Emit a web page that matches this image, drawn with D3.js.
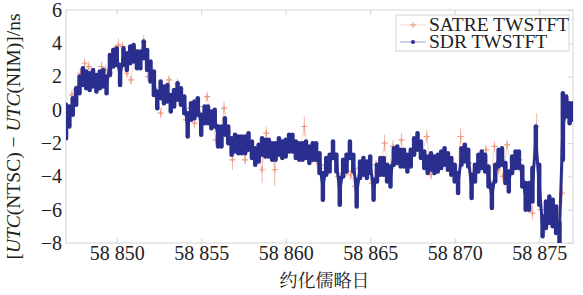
<!DOCTYPE html>
<html>
<head>
<meta charset="utf-8">
<script src="https://cdn.jsdelivr.net/npm/d3@7"></script>
<style>
  body { margin: 0; background: #fff; }
  svg text { font-family: 'Liberation Serif' !important; }
  svg text.cjk { font-family: 'Noto Serif CJK SC' !important; }
</style>
</head>
<body style="margin:0">
<script>
// SDR TWSTFT, one value every 0.2 day from MJD 58847.0
var sdrStart = 58847.0, sdrStep = 0.2;
var sdrValues = [
  -0.7, -0.4, 0.2, 0.8, 1.5, 2.0, 1.8, 1.7, 1.9, 1.6,
  1.8, 1.9, 1.5, 2.7, 3.1, 3.2, 2.1, 3.2, 2.9, 3.3,
  3.4, 3.0, 3.0, 3.6, 3.0, 2.3, 1.6, 0.6, 1.2, 0.9,
  1.0, 0.4, 0.7, 1.1, 0.8, 0.3, -0.9, -0.1, 0.0, 0.2,
  -0.9, -0.3, -0.3, -0.6, -0.5, -1.6, -1.6, -1.0, -1.5, -2.2,
  -2.0, -2.1, -2.1, -2.1, -1.9, -2.4, -2.8, -2.6, -2.2, -2.3,
  -2.3, -2.5, -2.5, -2.2, -2.4, -2.3, -2.0, -2.0, -2.4, -2.5,
  -2.5, -2.4, -2.7, -2.5, -2.5, -3.2, -4.6, -3.4, -3.2, -2.4,
  -3.2, -4.9, -3.5, -3.2, -2.4, -3.2, -5.0, -3.6, -3.4, -3.6,
  -3.3, -4.8, -3.8, -3.4, -3.4, -3.8, -4.0, -2.8, -2.7, -2.9,
  -2.9, -3.2, -2.9, -2.2, -1.9, -2.4, -3.0, -3.3, -3.1, -3.3,
  -3.2, -3.0, -2.8, -3.1, -3.4, -3.8, -4.4, -2.8, -2.6, -2.9,
  -4.6, -3.8, -3.2, -3.0, -3.2, -4.0, -5.2, -3.8, -2.9, -2.8,
  -3.8, -4.3, -3.3, -3.0, -3.0, -4.0, -5.2, -5.2, -4.5, -1.8,
  -4.5, -7.0, -6.3, -6.0, -6.2, -6.6, -7.4, -1.0, 0.2, -0.2,
  -0.1
];
// half height of the SDR point cloud at each sample (ns)
var sdrSpread = [
  1.0, 0.6, 0.5, 0.5, 0.5, 0.5, 0.5, 0.5, 0.5, 0.5,
  0.5, 0.5, 0.5, 0.6, 0.5, 0.5, 0.6, 0.5, 0.5, 0.5,
  0.5, 0.5, 0.5, 0.5, 0.6, 0.6, 0.7, 0.5, 0.5, 0.5,
  0.5, 0.5, 0.5, 0.5, 0.5, 0.5, 0.7, 0.5, 0.5, 0.5,
  0.6, 0.5, 0.5, 0.5, 0.5, 0.6, 0.6, 0.5, 0.5, 0.5,
  0.5, 0.5, 0.5, 0.5, 0.5, 0.5, 0.5, 0.5, 0.5, 0.5,
  0.5, 0.5, 0.5, 0.5, 0.5, 0.5, 0.5, 0.5, 0.5, 0.5,
  0.5, 0.5, 0.5, 0.5, 0.5, 0.6, 0.8, 0.5, 0.5, 0.5,
  0.5, 0.8, 0.5, 0.5, 0.5, 0.5, 0.8, 0.5, 0.5, 0.5,
  0.5, 0.6, 0.5, 0.5, 0.5, 0.5, 0.6, 0.5, 0.5, 0.5,
  0.5, 0.5, 0.5, 0.5, 0.5, 0.5, 0.5, 0.5, 0.5, 0.5,
  0.5, 0.5, 0.5, 0.5, 0.5, 0.5, 0.6, 0.5, 0.5, 0.5,
  0.7, 0.5, 0.5, 0.5, 0.5, 0.6, 0.7, 0.5, 0.5, 0.5,
  0.6, 0.6, 0.5, 0.5, 0.5, 0.6, 0.8, 0.8, 1.0, 0.8,
  1.2, 0.6, 0.8, 0.8, 0.8, 0.8, 0.6, 2.0, 0.6, 0.6,
  0.5
];

// SATRE TWSTFT, one value every 0.25 day from MJD 58847.1
var satreStart = 58847.1, satreStep = 0.25;
var satreValues = [
  -0.6, 0.9, 1.2, 2.2, 2.8, 2.6, 1.9, 1.2, 2.6, 2.4,
  2.2, 3.6, 3.9, 3.8, 2.2, 1.8, 3.6, 3.2, 4.1, 2.0,
  2.2, 1.0, -0.2, 1.0, 1.8, 0.6, 1.6, 0.8, -0.6, 0.1,
  -0.8, 0.2, -0.6, 0.8, -0.4, -1.8, -1.7, 0.1, -1.3, -3.0,
  -2.0, -2.2, -3.0, -2.0, -2.5, -2.9, -3.6, -1.4, -2.2, -3.6,
  -2.4, -2.3, -2.2, -1.9, -2.6, -2.4, -1.0, -2.6, -2.9, -3.1,
  -3.3, -3.5, -3.0, -2.6, -4.0, -3.8, -3.7, -3.9, -4.6, -3.5,
  -3.4, -3.8, -4.4, -3.3, -3.5, -2.0, -3.8, -2.2, -2.6, -1.8,
  -3.1, -3.0, -2.4, -1.9, -2.5, -1.6, -3.9, -3.3, -3.1, -2.9,
  -3.0, -3.4, -4.0, -1.6, -2.6, -3.2, -3.8, -3.6, -3.2, -2.4,
  -4.3, -2.2, -3.6, -4.0, -2.1, -3.6, -3.1, -3.0, -4.6, -5.8,
  -6.2, -1.0, -6.0, -7.0, -5.6, -6.2, -6.6, -5.0, 0.6, -0.4
];
var satreErrors = [
  0.3, 0.3, 0.3, 0.3, 0.3, 0.3, 0.3, 0.3, 0.3, 0.3,
  0.3, 0.3, 0.4, 0.3, 0.3, 0.3, 0.3, 0.3, 0.4, 0.3,
  0.3, 0.3, 0.3, 0.3, 0.3, 0.3, 0.3, 0.3, 0.3, 0.3,
  0.3, 0.3, 0.3, 0.3, 0.3, 0.3, 0.3, 0.4, 0.3, 0.6,
  0.3, 0.3, 0.3, 0.3, 0.3, 0.3, 0.8, 0.4, 0.3, 1.0,
  0.3, 0.3, 0.3, 0.3, 0.3, 0.3, 0.6, 0.3, 0.3, 0.3,
  0.4, 0.3, 0.3, 0.3, 0.3, 0.3, 0.3, 0.3, 0.4, 0.3,
  0.3, 0.3, 0.3, 0.3, 0.3, 0.5, 0.3, 0.4, 0.5, 0.4,
  0.3, 0.3, 0.3, 0.3, 0.3, 0.4, 0.3, 0.3, 0.3, 0.3,
  0.3, 0.3, 0.3, 0.5, 0.3, 0.3, 0.4, 0.3, 0.3, 0.3,
  0.3, 0.3, 0.3, 0.3, 0.3, 0.3, 0.3, 0.3, 0.4, 0.4,
  0.4, 0.8, 0.4, 0.4, 0.4, 0.4, 0.4, 0.6, 0.3, 0.3
];

var xTicks = [58850, 58855, 58860, 58865, 58870, 58875];
var yTicks = [-8, -6, -4, -2, 0, 2, 4, 6];
var seriesNames = ["SATRE TWSTFT", "SDR TWSTFT"];

var sdrColor = "#2a2e8e", satreColor = "#eb9a82", axisColor = "#d4d4d4";

var margin = {top: 10, right: 10, bottom: 52, left: 66},
    width = 583 - margin.left - margin.right,
    height = 295 - margin.top - margin.bottom;

var svg = d3.select("body")
  .append("svg")
    .attr("width", width + margin.left + margin.right)
    .attr("height", height + margin.top + margin.bottom)
    .attr("font-family", "Liberation Serif")
  .append("g")
    .attr("transform", "translate(" + margin.left + "," + margin.top + ")");

var x = d3.scaleLinear().domain([58847, 58877]).range([0, width]);
var y = d3.scaleLinear().domain([-8, 6]).range([height, 0]);

var sdr = sdrValues.map(function(v, i) { return {t: sdrStart + i * sdrStep, v: v, s: sdrSpread[i]}; });
var satre = satreValues.map(function(v, i) {
  return {t: satreStart + i * satreStep, v: v, e: satreErrors[i]};
});

var fmtX = function(d) { return String(d).replace(/(\d\d)(\d{3})$/, "$1 $2"); };

// frame
svg.append("rect")
  .attr("width", width).attr("height", height)
  .attr("fill", "none").attr("stroke", axisColor);

// bottom axis, ticks pointing in
var xAxis = svg.append("g")
  .attr("transform", "translate(0," + height + ")")
  .call(d3.axisBottom(x).tickValues(xTicks).tickFormat(fmtX).tickSizeInner(-5).tickSizeOuter(0).tickPadding(3));
var xTop = svg.append("g")
  .call(d3.axisTop(x).tickValues(xTicks).tickFormat("").tickSizeInner(-5).tickSizeOuter(0));
var yAxis = svg.append("g")
  .call(d3.axisLeft(y).tickValues(yTicks).tickSize(0).tickPadding(4));
var yRight = svg.append("g")
  .attr("transform", "translate(" + width + ",0)")
  .call(d3.axisRight(y).tickValues(yTicks).tickFormat("").tickSizeInner(-5).tickSizeOuter(0));

[xAxis, xTop, yAxis, yRight].forEach(function(g) {
  g.attr("font-family", "Liberation Serif").attr("font-size", 20);
  g.select(".domain").remove();
  g.selectAll("line").attr("stroke", axisColor);
  g.selectAll("text").attr("fill", "#222")
    .attr("font-family", "Liberation Serif")
    .style("font-family", "'Liberation Serif'").style("font-size", "20px");
});

// clip
svg.append("clipPath").attr("id", "clip")
  .append("rect").attr("width", width).attr("height", height);
var plot = svg.append("g").attr("clip-path", "url(#clip)");

// SATRE: error bars, thin line, plus markers
plot.append("path")
  .datum(satre)
  .attr("fill", "none").attr("stroke", satreColor).attr("stroke-opacity", 0.4).attr("stroke-width", 1)
  .attr("d", d3.line().x(function(d) { return x(d.t); }).y(function(d) { return y(d.v); }));

plot.append("g").selectAll("line")
  .data(satre).enter().append("line")
    .attr("x1", function(d) { return x(d.t); })
    .attr("x2", function(d) { return x(d.t); })
    .attr("y1", function(d) { return y(d.v - d.e); })
    .attr("y2", function(d) { return y(d.v + d.e); })
    .attr("stroke", satreColor).attr("stroke-opacity", 0.7).attr("stroke-width", 1);

var plus = "M-3,0H3M0,-3V3";
plot.append("g").selectAll("path")
  .data(satre).enter().append("path")
    .attr("d", plus)
    .attr("transform", function(d) { return "translate(" + x(d.t) + "," + y(d.v) + ")"; })
    .attr("fill", "none").attr("stroke", satreColor).attr("stroke-width", 1.2);

// SDR: connecting line plus vertical point clouds
plot.append("path")
  .datum(sdr)
  .attr("fill", "none").attr("stroke", sdrColor).attr("stroke-width", 3)
  .attr("stroke-linejoin", "round")
  .attr("d", d3.line().x(function(d) { return x(d.t); }).y(function(d) { return y(d.v); }));

plot.append("g").selectAll("line")
  .data(sdr).enter().append("line")
    .attr("x1", function(d) { return x(d.t); })
    .attr("x2", function(d) { return x(d.t); })
    .attr("y1", function(d) { return y(d.v - d.s); })
    .attr("y2", function(d) { return y(d.v + d.s); })
    .attr("stroke", sdrColor).attr("stroke-width", 4.5).attr("stroke-linecap", "round");

// legend
var legend = svg.append("g").attr("transform", "translate(330,5)");
legend.append("rect")
  .attr("width", 173).attr("height", 36)
  .attr("fill", "#fff").attr("stroke", axisColor);
seriesNames.forEach(function(name, i) {
  var ly = 10 + i * 17;
  var c = i === 0 ? satreColor : sdrColor;
  legend.append("line")
    .attr("x1", 4).attr("x2", 30).attr("y1", ly).attr("y2", ly)
    .attr("stroke", c).attr("stroke-opacity", 0.45).attr("stroke-width", 1);
  if (i === 0) {
    legend.append("path")
      .attr("d", plus)
      .attr("transform", "translate(17," + ly + ")")
      .attr("fill", "none").attr("stroke", c);
  } else {
    legend.append("circle").attr("cx", 17).attr("cy", ly).attr("r", 2).attr("fill", c);
  }
  legend.append("text")
    .attr("x", 33).attr("y", ly + 6)
    .attr("font-family", "Liberation Serif")
    .style("font-family", "'Liberation Serif'")
    .style("font-size", "19.5px").attr("fill", "#222")
    .text(name);
});

// axis titles
svg.append("text")
  .attr("class", "cjk")
  .attr("x", width / 2 + 5)
  .attr("y", height + 44)
  .style("text-anchor", "middle")
  .style("font-size", "18px").attr("fill", "#222")
  .text("约化儒略日");

var yl = svg.append("text")
  .attr("transform", "translate(-46," + (height / 2 + 10) + ") rotate(-90)")
  .attr("font-family", "Liberation Serif")
  .style("font-family", "'Liberation Serif'")
  .style("text-anchor", "middle")
  .style("font-size", "19.5px").attr("fill", "#222");
yl.append("tspan").text("[");
yl.append("tspan").style("font-style", "italic").text("UTC");
yl.append("tspan").text("(NTSC) \u2212 ");
yl.append("tspan").style("font-style", "italic").text("UTC");
yl.append("tspan").text("(NIM)]/ns");
</script>
</body>
</html>
